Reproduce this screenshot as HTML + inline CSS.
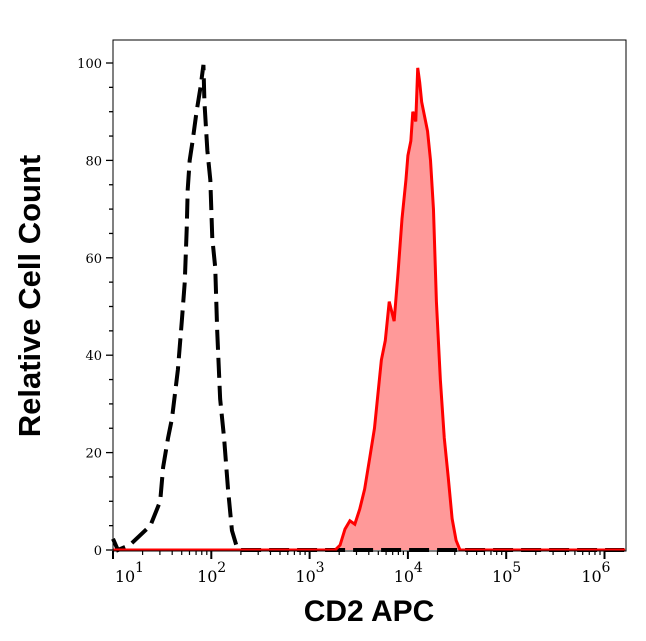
<!DOCTYPE html>
<html><head><meta charset="utf-8"><style>
body{margin:0;background:#fff;}
svg{display:block;}
text{font-family:"DejaVu Serif","Liberation Serif",serif;}
</style></head><body>
<svg id="chart" width="646" height="641">
<g id="plot"></g>
<text x="369" y="621" text-anchor="middle" font-size="30" font-weight="bold" style="font-family:'Liberation Sans',sans-serif">CD2 APC</text>
<text transform="translate(40,296) rotate(-90)" text-anchor="middle" font-size="31" font-weight="bold" style="font-family:'Liberation Sans',sans-serif">Relative Cell Count</text>
</svg>
<script>
const isoLogX=[1.00,1.05,1.17,1.38,1.48,1.51,1.56,1.60,1.66,1.70,1.73,1.75,1.76,1.78,1.81,1.85,1.89,1.92,1.93,1.96,1.99,2.01,2.04,2.06,2.09,2.13,2.17,2.21,2.26,2.29,2.9,6.2];
const isoCount=[2.3,0,1,5,10,17,23,27,37,47,55,66,74,80,84,90,95,99.6,92,82,76,64,58,45,31,23,12.5,4,0.6,0,0,0];
const cd2LogX=[1.0,3.26,3.31,3.36,3.41,3.46,3.51,3.56,3.61,3.66,3.69,3.73,3.77,3.81,3.86,3.90,3.94,3.98,4.00,4.03,4.05,4.08,4.10,4.12,4.14,4.17,4.20,4.23,4.26,4.29,4.33,4.37,4.41,4.45,4.49,4.53,6.21];
const cd2Count=[0,0,1,4.3,6,5.3,8.4,12.5,18.7,25,31,39,43,51,47,57,68,76,81,84,90,88,99,96,92,89,86,80,70,51,35,23,15,6.4,2,0,0];
const yTicks=[0,20,40,60,80,100];
const xDecades=[1,2,3,4,5,6];

const L=113,R=626,T=40,B=551;
const xs=v=>L+(v-1)*98.3;
const ys=v=>B-1-v*4.87;
const NS='http://www.w3.org/2000/svg';
const g=document.getElementById('plot');
function mk(t,a){const e=document.createElementNS(NS,t);for(const k in a)e.setAttribute(k,a[k]);g.appendChild(e);return e;}

const fillPts=cd2LogX.map((v,i)=>xs(v)+','+ys(cd2Count[i])).join(' ');
const area=mk('polygon',{points:fillPts+' '+xs(6.21)+','+(B-1)+' '+xs(1)+','+(B-1),fill:'#ff9999',stroke:'none'});


const iso=mk('polyline',{points:isoLogX.map((v,i)=>xs(v)+','+ys(isoCount[i])).join(' '),fill:'none',stroke:'#000','stroke-width':4,'stroke-dasharray':'20,8'});


const cd2=mk('polyline',{points:fillPts,fill:'none',stroke:'#ff0000','stroke-width':3});



const frame=mk('rect',{x:L,y:T,width:R-L,height:B-T,fill:'none',stroke:'#000','stroke-width':1});



for(let v=0;v<=100;v+=5){
  const major=v%20===0;
  const t=mk('line',{x1:L-(major?7:4),x2:L,y1:ys(v),y2:ys(v),stroke:'#000','stroke-width':1.3});
  
  
}
yTicks.forEach(v=>{
  const t=mk('text',{x:L-11,y:ys(v)+5,'text-anchor':'end','font-size':13});
  t.textContent=v;
  
  
});
for(let d=1;d<=6;d++){
  for(let m=1;m<=9;m++){
    const lv=d+Math.log10(m);
    if(lv>6.21)break;
    const t=mk('line',{x1:xs(lv),x2:xs(lv),y1:B,y2:B+(m===1?8:4),stroke:'#000','stroke-width':m===1?2:1.2});
    
    
  }
}
xDecades.forEach(d=>{
  let cx=xs(d); if(d===1)cx+=16; if(d===6)cx-=9;
  const t=mk('text',{x:cx-4,y:582,'text-anchor':'middle','font-size':16});
  t.textContent='10';
  
  
  const s=mk('text',{x:cx+6,y:572,'text-anchor':'start','font-size':14});
  s.textContent=d;
  
  
});
</script>
</body></html>
